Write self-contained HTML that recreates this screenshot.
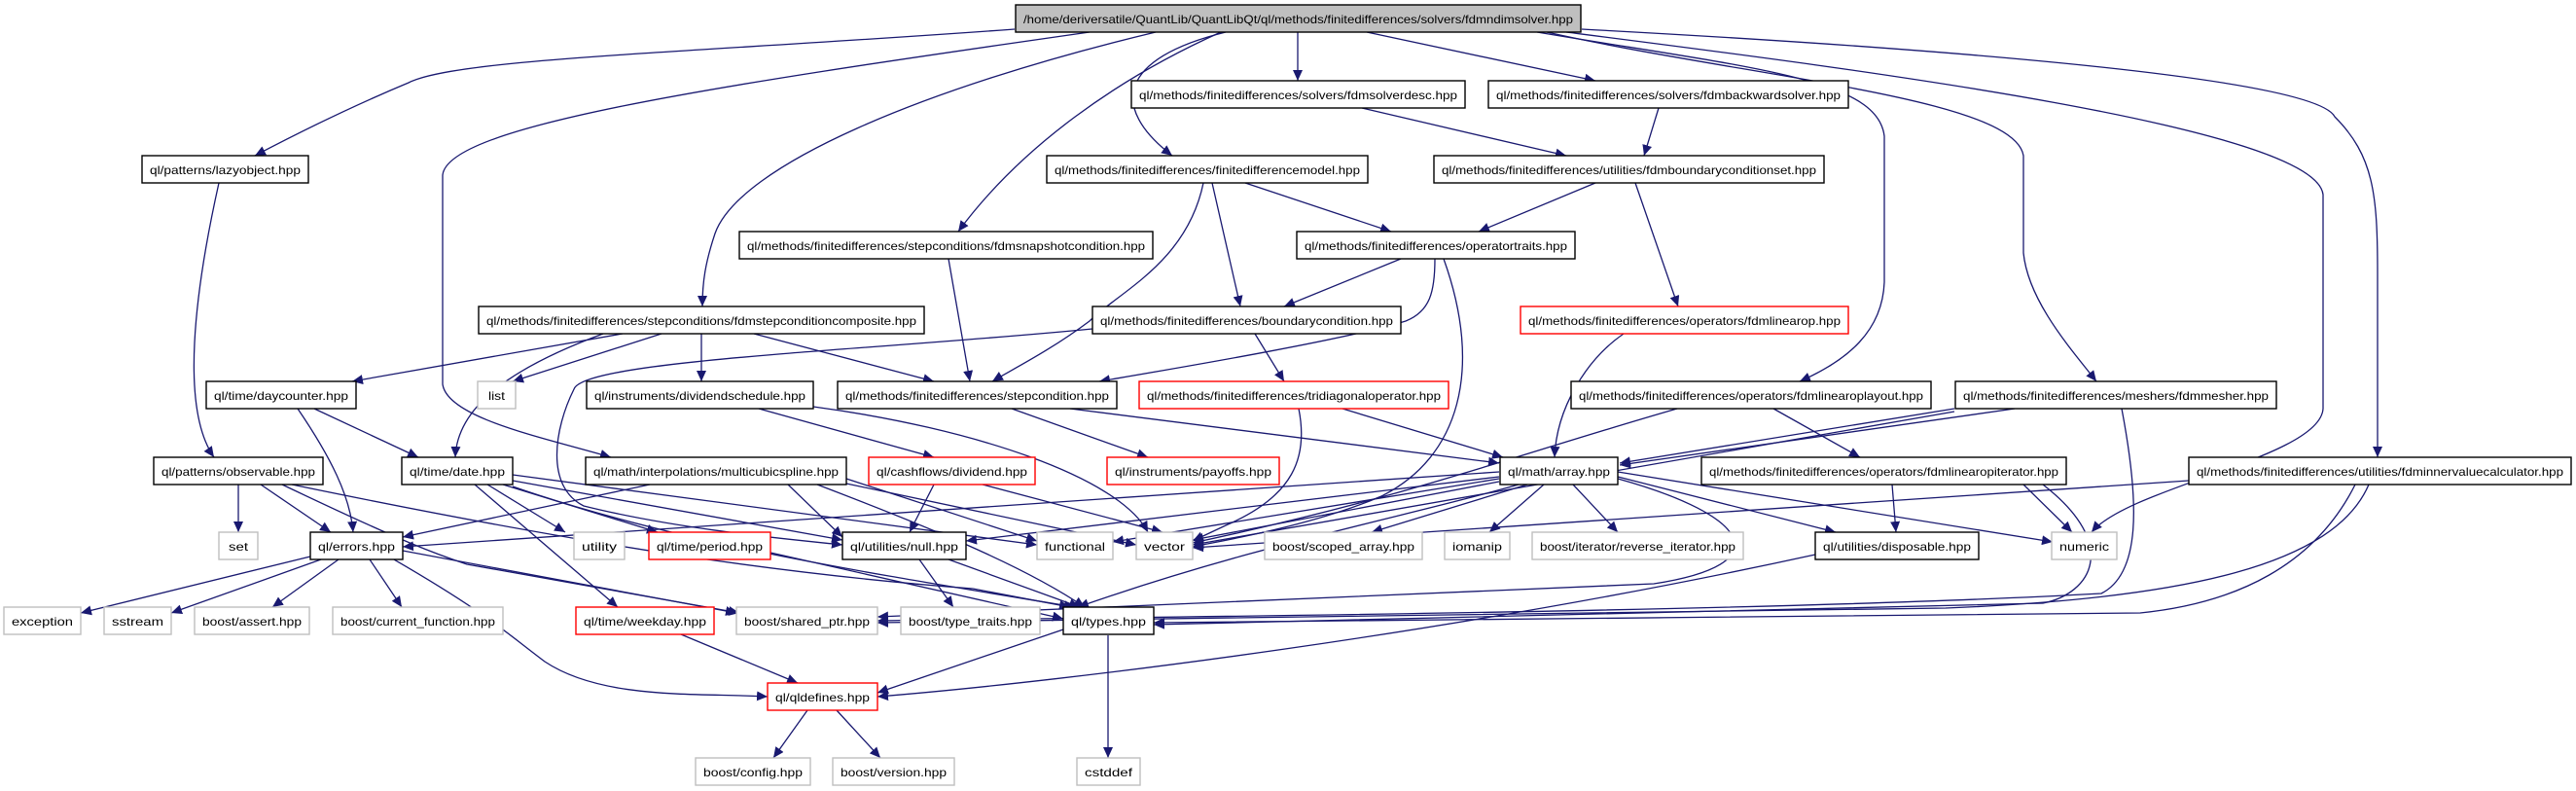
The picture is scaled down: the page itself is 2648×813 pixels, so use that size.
<!DOCTYPE html>
<html><head><meta charset="utf-8"><style>
html,body{margin:0;padding:0;background:#fff;}
svg{display:block;}
text{font-family:"Liberation Sans",Helvetica,Arial,sans-serif;font-size:12px;fill:#000;}
.e{fill:none;stroke:#191970;stroke-width:1.3;marker-end:url(#a);}
.n{fill:#fff;stroke:#000;stroke-width:1.4;}
.g{fill:#fff;stroke:#bfbfbf;stroke-width:1.4;}
.r{fill:#fff;stroke:#ff0000;stroke-width:1.4;}
</style></head><body>
<svg width="2648" height="813" viewBox="0 0 2648 813" xmlns="http://www.w3.org/2000/svg">
<defs><marker id="a" markerUnits="userSpaceOnUse" markerWidth="12" markerHeight="10" refX="11" refY="5" orient="auto"><path d="M0,0 L11,5 L0,10 z" fill="#191970"/></marker></defs>
<g>
<path class="e" d="M1043,30 C700,55 470,60 420,85 C360,110 300,140 262,160"/>
<path class="e" d="M1188,33 C950,90 760,170 735,240 C725,270 722,290 722,315"/>
<path class="e" d="M1120,33 C720,90 460,130 455,180 L455,395 C460,430 560,450 628,470"/>
<path class="e" d="M1260,33 C1150,60 1140,110 1205,160"/>
<path class="e" d="M1255,33 C1150,80 1050,150 985,238"/>
<path class="e" d="M1334,33 L1334,83"/>
<path class="e" d="M1405,33 L1640,83"/>
<path class="e" d="M1580,33 C1800,70 1930,80 1937,140 L1937,290 C1935,340 1900,370 1850,392"/>
<path class="e" d="M1590,33 C1800,80 2070,100 2080,160 L2080,260 C2085,310 2130,360 2155,392"/>
<path class="e" d="M1610,33 C1900,70 2380,130 2388,200 L2388,420 C2385,470 2190,500 2150,547"/>
<path class="e" d="M1626,30 C2000,50 2380,80 2400,120 C2440,160 2444,200 2444,280 L2444,470"/>
<path class="e" d="M225,188 C200,300 185,420 220,470"/>
<path class="e" d="M1400,111 L1610,160"/>
<path class="e" d="M1705,111 L1690,160"/>
<path class="e" d="M1280,188 L1430,238"/>
<path class="e" d="M1246,188 L1275,315"/>
<path class="e" d="M1237,188 C1220,270 1150,300 1120,330 C1080,360 1040,380 1020,392"/>
<path class="e" d="M1640,188 L1520,238"/>
<path class="e" d="M1681,188 L1725,315"/>
<path class="e" d="M975,266 L997,392"/>
<path class="e" d="M1440,266 L1320,315"/>
<path class="e" d="M1475,266 C1475,300 1470,320 1445,330 C1380,350 1200,380 1130,392"/>
<path class="e" d="M1484,266 C1525,380 1500,470 1420,510 C1350,540 1260,555 1226,562"/>
<path class="e" d="M640,343 L362,392"/>
<path class="e" d="M620,343 C520,380 470,420 468,470"/>
<path class="e" d="M680,343 L527,392"/>
<path class="e" d="M721,343 L721,392"/>
<path class="e" d="M775,343 L960,392"/>
<path class="e" d="M1290,343 L1320,392"/>
<path class="e" d="M1123,338 C900,360 600,370 590,400 C570,440 560,500 600,520 C700,545 820,555 866,560"/>
<path class="e" d="M1669,343 C1630,370 1600,420 1598,470"/>
<path class="e" d="M1040,420 L1180,470"/>
<path class="e" d="M1100,420 L1541,476"/>
<path class="e" d="M1380,420 L1545,470"/>
<path class="e" d="M1335,420 C1345,470 1330,510 1260,540 L1226,556"/>
<path class="e" d="M1823,420 L1912,470"/>
<path class="e" d="M1724,420 C1550,470 1450,510 1226,558"/>
<path class="e" d="M2009,420 L1665,476"/>
<path class="e" d="M2071,420 L1665,478"/>
<path class="e" d="M2009,423 L1226,560"/>
<path class="e" d="M2181,420 C2200,520 2200,590 2160,610 C1800,630 1100,635 902,638"/>
<path class="e" d="M2250,494 L1226,563"/>
<path class="e" d="M2421,498 C2380,580 2300,620 2200,630 L1186,640"/>
<path class="e" d="M2435,498 C2400,580 2250,615 2000,625 L902,640"/>
<path class="e" d="M780,420 L960,470"/>
<path class="e" d="M836,418 C1000,440 1150,490 1180,547"/>
<path class="e" d="M323,420 L430,470"/>
<path class="e" d="M306,420 C340,470 360,510 363,547"/>
<path class="e" d="M245,498 L245,547"/>
<path class="e" d="M268,498 L340,547"/>
<path class="e" d="M290,498 C420,560 450,570 480,580 L760,630"/>
<path class="e" d="M300,498 C600,560 800,590 1000,605 L1100,624"/>
<path class="e" d="M488,498 L635,624"/>
<path class="e" d="M501,498 L581,547"/>
<path class="e" d="M517,498 L676,547"/>
<path class="e" d="M527,494 L866,555"/>
<path class="e" d="M527,488 L1066,560"/>
<path class="e" d="M527,500 C700,560 900,590 1105,624"/>
<path class="e" d="M668,498 L414,552"/>
<path class="e" d="M810,498 L866,552"/>
<path class="e" d="M870,492 L1066,556"/>
<path class="e" d="M840,498 C950,540 1050,580 1115,624"/>
<path class="e" d="M870,497 L1168,560"/>
<path class="e" d="M960,498 L935,547"/>
<path class="e" d="M1010,498 L1195,547"/>
<path class="e" d="M1541,485 L414,562"/>
<path class="e" d="M1541,490 L993,556"/>
<path class="e" d="M1541,492 L1144,557"/>
<path class="e" d="M1541,495 L1226,555"/>
<path class="e" d="M1570,498 L1410,547"/>
<path class="e" d="M1587,498 L1531,547"/>
<path class="e" d="M1617,498 L1663,547"/>
<path class="e" d="M1663,490 L1887,547"/>
<path class="e" d="M1663,485 L2110,557"/>
<path class="e" d="M1561,498 C1450,530 1290,560 1108,624"/>
<path class="e" d="M1663,492 C1800,530 1830,580 1700,600 L902,634"/>
<path class="e" d="M1945,498 L1949,547"/>
<path class="e" d="M2080,498 L2130,547"/>
<path class="e" d="M2100,498 C2180,560 2150,610 2100,620 L1186,642"/>
<path class="e" d="M1866,570 C1500,650 1100,700 902,716"/>
<path class="e" d="M319,572 L83,630"/>
<path class="e" d="M330,575 L176,630"/>
<path class="e" d="M348,575 L280,624"/>
<path class="e" d="M380,575 L413,624"/>
<path class="e" d="M414,566 L757,630"/>
<path class="e" d="M405,575 C500,630 520,650 560,680 C620,720 720,712 789,716"/>
<path class="e" d="M792,568 L1093,636"/>
<path class="e" d="M945,575 L980,624"/>
<path class="e" d="M975,575 L1110,624"/>
<path class="e" d="M1093,647 L902,712"/>
<path class="e" d="M1139,653 L1139,779"/>
<path class="e" d="M700,652 L820,702"/>
<path class="e" d="M830,730 L795,779"/>
<path class="e" d="M860,730 L905,779"/>
</g>
<g>
<rect x="1044" y="5" width="581" height="28" fill="#bfbfbf" stroke="#000" stroke-width="1.4"/><text x="1052" y="24" textLength="565" lengthAdjust="spacingAndGlyphs">/home/deriversatile/QuantLib/QuantLibQt/ql/methods/finitedifferences/solvers/fdmndimsolver.hpp</text>
<rect class="n" x="1163" y="83" width="343" height="28"/><text x="1171" y="102" textLength="327" lengthAdjust="spacingAndGlyphs">ql/methods/finitedifferences/solvers/fdmsolverdesc.hpp</text>
<rect class="n" x="1530" y="83" width="370" height="28"/><text x="1538" y="102" textLength="354" lengthAdjust="spacingAndGlyphs">ql/methods/finitedifferences/solvers/fdmbackwardsolver.hpp</text>
<rect class="n" x="146" y="160" width="171" height="28"/><text x="154" y="179" textLength="155" lengthAdjust="spacingAndGlyphs">ql/patterns/lazyobject.hpp</text>
<rect class="n" x="1076" y="160" width="330" height="28"/><text x="1084" y="179" textLength="314" lengthAdjust="spacingAndGlyphs">ql/methods/finitedifferences/finitedifferencemodel.hpp</text>
<rect class="n" x="1474" y="160" width="401" height="28"/><text x="1482" y="179" textLength="385" lengthAdjust="spacingAndGlyphs">ql/methods/finitedifferences/utilities/fdmboundaryconditionset.hpp</text>
<rect class="n" x="760" y="238" width="425" height="28"/><text x="768" y="257" textLength="409" lengthAdjust="spacingAndGlyphs">ql/methods/finitedifferences/stepconditions/fdmsnapshotcondition.hpp</text>
<rect class="n" x="1333" y="238" width="286" height="28"/><text x="1341" y="257" textLength="270" lengthAdjust="spacingAndGlyphs">ql/methods/finitedifferences/operatortraits.hpp</text>
<rect class="n" x="492" y="315" width="458" height="28"/><text x="500" y="334" textLength="442" lengthAdjust="spacingAndGlyphs">ql/methods/finitedifferences/stepconditions/fdmstepconditioncomposite.hpp</text>
<rect class="n" x="1123" y="315" width="317" height="28"/><text x="1131" y="334" textLength="301" lengthAdjust="spacingAndGlyphs">ql/methods/finitedifferences/boundarycondition.hpp</text>
<rect class="r" x="1563" y="315" width="337" height="28"/><text x="1571" y="334" textLength="321" lengthAdjust="spacingAndGlyphs">ql/methods/finitedifferences/operators/fdmlinearop.hpp</text>
<rect class="n" x="212" y="392" width="154" height="28"/><text x="220" y="411" textLength="138" lengthAdjust="spacingAndGlyphs">ql/time/daycounter.hpp</text>
<rect class="g" x="491" y="392" width="39" height="28"/><text x="502" y="411" textLength="17" lengthAdjust="spacingAndGlyphs">list</text>
<rect class="n" x="603" y="392" width="233" height="28"/><text x="611" y="411" textLength="217" lengthAdjust="spacingAndGlyphs">ql/instruments/dividendschedule.hpp</text>
<rect class="n" x="861" y="392" width="287" height="28"/><text x="869" y="411" textLength="271" lengthAdjust="spacingAndGlyphs">ql/methods/finitedifferences/stepcondition.hpp</text>
<rect class="r" x="1171" y="392" width="318" height="28"/><text x="1179" y="411" textLength="302" lengthAdjust="spacingAndGlyphs">ql/methods/finitedifferences/tridiagonaloperator.hpp</text>
<rect class="n" x="1615" y="392" width="370" height="28"/><text x="1623" y="411" textLength="354" lengthAdjust="spacingAndGlyphs">ql/methods/finitedifferences/operators/fdmlinearoplayout.hpp</text>
<rect class="n" x="2010" y="392" width="330" height="28"/><text x="2018" y="411" textLength="314" lengthAdjust="spacingAndGlyphs">ql/methods/finitedifferences/meshers/fdmmesher.hpp</text>
<rect class="n" x="158" y="470" width="174" height="28"/><text x="166" y="489" textLength="158" lengthAdjust="spacingAndGlyphs">ql/patterns/observable.hpp</text>
<rect class="n" x="413" y="470" width="114" height="28"/><text x="421" y="489" textLength="98" lengthAdjust="spacingAndGlyphs">ql/time/date.hpp</text>
<rect class="n" x="602" y="470" width="268" height="28"/><text x="610" y="489" textLength="252" lengthAdjust="spacingAndGlyphs">ql/math/interpolations/multicubicspline.hpp</text>
<rect class="r" x="893" y="470" width="171" height="28"/><text x="901" y="489" textLength="155" lengthAdjust="spacingAndGlyphs">ql/cashflows/dividend.hpp</text>
<rect class="r" x="1138" y="470" width="177" height="28"/><text x="1146" y="489" textLength="161" lengthAdjust="spacingAndGlyphs">ql/instruments/payoffs.hpp</text>
<rect class="n" x="1542" y="470" width="121" height="28"/><text x="1550" y="489" textLength="105" lengthAdjust="spacingAndGlyphs">ql/math/array.hpp</text>
<rect class="n" x="1749" y="470" width="375" height="28"/><text x="1757" y="489" textLength="359" lengthAdjust="spacingAndGlyphs">ql/methods/finitedifferences/operators/fdmlinearopiterator.hpp</text>
<rect class="n" x="2250" y="470" width="393" height="28"/><text x="2258" y="489" textLength="377" lengthAdjust="spacingAndGlyphs">ql/methods/finitedifferences/utilities/fdminnervaluecalculator.hpp</text>
<rect class="g" x="225" y="547" width="40" height="28"/><text x="235" y="566" textLength="20" lengthAdjust="spacingAndGlyphs">set</text>
<rect class="n" x="319" y="547" width="95" height="28"/><text x="327" y="566" textLength="79" lengthAdjust="spacingAndGlyphs">ql/errors.hpp</text>
<rect class="g" x="590" y="547" width="52" height="28"/><text x="598" y="566" textLength="36" lengthAdjust="spacingAndGlyphs">utility</text>
<rect class="r" x="667" y="547" width="125" height="28"/><text x="675" y="566" textLength="109" lengthAdjust="spacingAndGlyphs">ql/time/period.hpp</text>
<rect class="n" x="866" y="547" width="127" height="28"/><text x="874" y="566" textLength="111" lengthAdjust="spacingAndGlyphs">ql/utilities/null.hpp</text>
<rect class="g" x="1066" y="547" width="78" height="28"/><text x="1074" y="566" textLength="62" lengthAdjust="spacingAndGlyphs">functional</text>
<rect class="g" x="1168" y="547" width="58" height="28"/><text x="1176" y="566" textLength="42" lengthAdjust="spacingAndGlyphs">vector</text>
<rect class="g" x="1300" y="547" width="162" height="28"/><text x="1308" y="566" textLength="146" lengthAdjust="spacingAndGlyphs">boost/scoped_array.hpp</text>
<rect class="g" x="1485" y="547" width="67" height="28"/><text x="1493" y="566" textLength="51" lengthAdjust="spacingAndGlyphs">iomanip</text>
<rect class="g" x="1575" y="547" width="217" height="28"/><text x="1583" y="566" textLength="201" lengthAdjust="spacingAndGlyphs">boost/iterator/reverse_iterator.hpp</text>
<rect class="n" x="1866" y="547" width="168" height="28"/><text x="1874" y="566" textLength="152" lengthAdjust="spacingAndGlyphs">ql/utilities/disposable.hpp</text>
<rect class="g" x="2109" y="547" width="67" height="28"/><text x="2117" y="566" textLength="51" lengthAdjust="spacingAndGlyphs">numeric</text>
<rect class="g" x="4" y="624" width="79" height="28"/><text x="12" y="643" textLength="63" lengthAdjust="spacingAndGlyphs">exception</text>
<rect class="g" x="107" y="624" width="69" height="28"/><text x="115" y="643" textLength="53" lengthAdjust="spacingAndGlyphs">sstream</text>
<rect class="g" x="200" y="624" width="118" height="28"/><text x="208" y="643" textLength="102" lengthAdjust="spacingAndGlyphs">boost/assert.hpp</text>
<rect class="g" x="342" y="624" width="175" height="28"/><text x="350" y="643" textLength="159" lengthAdjust="spacingAndGlyphs">boost/current_function.hpp</text>
<rect class="r" x="592" y="624" width="142" height="28"/><text x="600" y="643" textLength="126" lengthAdjust="spacingAndGlyphs">ql/time/weekday.hpp</text>
<rect class="g" x="757" y="624" width="145" height="28"/><text x="765" y="643" textLength="129" lengthAdjust="spacingAndGlyphs">boost/shared_ptr.hpp</text>
<rect class="g" x="926" y="624" width="143" height="28"/><text x="934" y="643" textLength="127" lengthAdjust="spacingAndGlyphs">boost/type_traits.hpp</text>
<rect class="n" x="1093" y="624" width="93" height="28"/><text x="1101" y="643" textLength="77" lengthAdjust="spacingAndGlyphs">ql/types.hpp</text>
<rect class="r" x="789" y="702" width="113" height="28"/><text x="797" y="721" textLength="97" lengthAdjust="spacingAndGlyphs">ql/qldefines.hpp</text>
<rect class="g" x="715" y="779" width="118" height="28"/><text x="723" y="798" textLength="102" lengthAdjust="spacingAndGlyphs">boost/config.hpp</text>
<rect class="g" x="856" y="779" width="125" height="28"/><text x="864" y="798" textLength="109" lengthAdjust="spacingAndGlyphs">boost/version.hpp</text>
<rect class="g" x="1107" y="779" width="65" height="28"/><text x="1115" y="798" textLength="49" lengthAdjust="spacingAndGlyphs">cstddef</text>
</g>
</svg>
</body></html>
